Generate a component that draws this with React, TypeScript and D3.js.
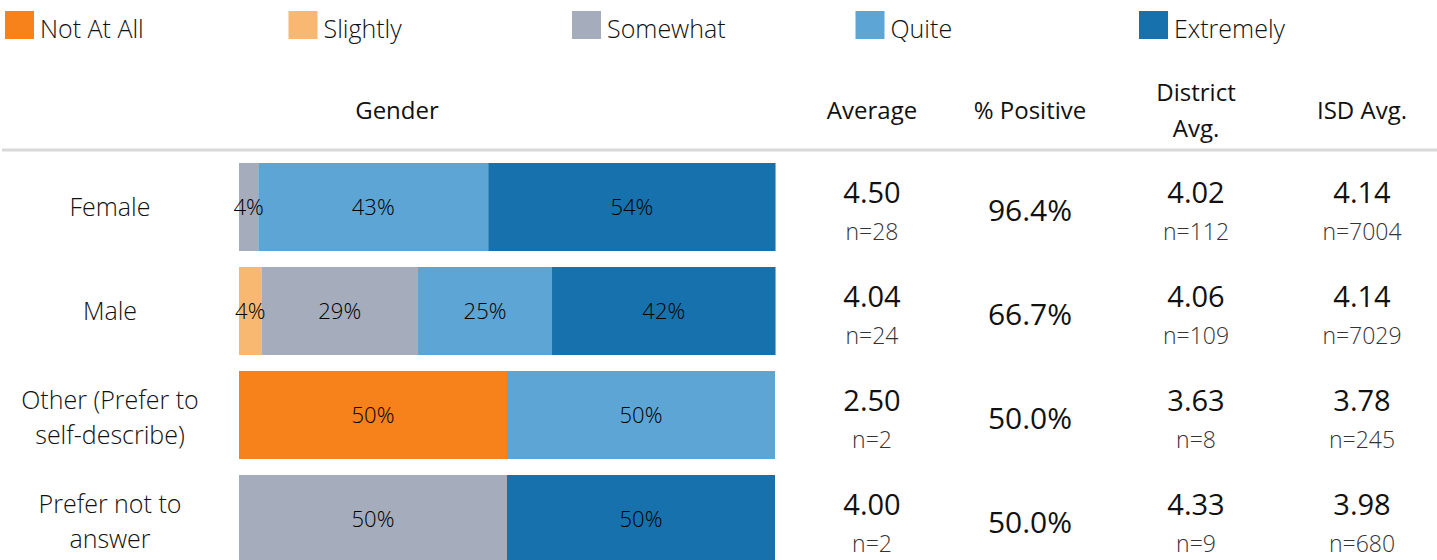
import React from "react";
import * as d3 from "d3";

const levels = ["Not At All", "Slightly", "Somewhat", "Quite", "Extremely"];
const levelColors = ["#F7811A", "#F9B872", "#A5ACBB", "#5DA5D5", "#1771AD"];

const groups = ["Female", "Male", "Other (Prefer to self-describe)", "Prefer not to answer"];
const groupLines = [["Female"], ["Male"], ["Other (Prefer to", "self-describe)"], ["Prefer not to", "answer"]];

// shares (%) per level, per group
const femaleShares = [0, 0, 3.6, 42.9, 53.6];
const maleShares = [0, 4.2, 29.2, 25.0, 41.7];
const otherShares = [50, 0, 0, 50, 0];
const preferNotShares = [0, 0, 50, 0, 50];
const shares = [femaleShares, maleShares, otherShares, preferNotShares];

const averages = ["4.50", "4.04", "2.50", "4.00"];
const averageN = [28, 24, 2, 2];
const pctPositive = ["96.4%", "66.7%", "50.0%", "50.0%"];
const districtAvg = ["4.02", "4.06", "3.63", "4.33"];
const districtN = [112, 109, 8, 9];
const isdAvg = ["4.14", "4.14", "3.78", "3.98"];
const isdN = [7004, 7029, 245, 680];

const headers = ["Average", "% Positive", "District Avg.", "ISD Avg."];

const W = 1437;
const H = 560;
const FONT = "'Open Sans', 'Noto Sans', sans-serif";

export default function App() {
  const x = d3.scaleLinear().domain([0, 100]).range([239, 775]);
  const y = d3.scaleBand<string>().domain(groups).range([155, 571]).paddingInner(16 / 104).paddingOuter(8 / 104);
  const legendX = d3.scalePoint<string>().domain(levels).range([5, 1139]);
  const colCenters = [872, 1030, 1196, 1362];

  const tableData = groups.map((g, i) => {
    const row: any = { group: g };
    levels.forEach((l, j) => (row[l] = shares[i][j]));
    return row;
  });
  const stack = d3.stack<any>().keys(levels);
  const series = stack(tableData);

  const textFill = "#111";

  return (
    <svg width={W} height={H} style={{ position: "absolute", left: 0, top: 0 }} fontFamily={FONT}>
      {/* legend */}
      {levels.map((l, i) => (
        <g key={l} transform={`translate(${legendX(l)},0)`}>
          <rect x={0} y={11} width={29} height={28} fill={levelColors[i]} />
          <text x={35} y={38} fontSize={25} fill={textFill} fontWeight={300}>
            {l}
          </text>
        </g>
      ))}

      {/* headers */}
      <text x={397} y={119} fontSize={24} textAnchor="middle" fill={textFill}>
        Gender
      </text>
      {headers.map((h, i) => {
        const cx = colCenters[i];
        if (h === "District Avg.") {
          return (
            <text key={h} x={cx} fontSize={24} textAnchor="middle" fill={textFill}>
              <tspan x={cx} y={101}>District</tspan>
              <tspan x={cx} y={137}>Avg.</tspan>
            </text>
          );
        }
        return (
          <text key={h} x={cx} y={119} fontSize={24} textAnchor="middle" fill={textFill}>
            {h}
          </text>
        );
      })}
      <line x1={2} x2={W} y1={150} y2={150} stroke="#d9d9d9" strokeWidth={3} />

      {/* bars */}
      {series.map((s, si) => (
        <g key={s.key} fill={levelColors[si]}>
          {s.map((d, di) => {
            const w = x(d[1]) - x(d[0]);
            if (w <= 0) return null;
            return (
              <rect key={di} x={x(d[0])} y={y(groups[di])} width={w} height={y.bandwidth()} />
            );
          })}
        </g>
      ))}
      {series.map((s) =>
        s.map((d, di) => {
          const v = d[1] - d[0];
          if (v <= 0) return null;
          const cy = (y(groups[di]) as number) + y.bandwidth() / 2;
          return (
            <text
              key={s.key + di}
              x={(x(d[0]) + x(d[1])) / 2}
              y={cy + 8}
              fontSize={22}
              fontWeight={300}
              textAnchor="middle"
              fill="#000"
            >
              {Math.round(v)}%
            </text>
          );
        })
      )}

      {/* row labels and stats */}
      {groups.map((g, i) => {
        const cy = (y(g) as number) + y.bandwidth() / 2;
        const lines = groupLines[i];
        const startY = lines.length === 1 ? cy + 9 : cy - 6;
        return (
          <g key={g}>
            <text fontSize={25} fontWeight={300} textAnchor="middle" fill={textFill}>
              {lines.map((ln, k) => (
                <tspan key={k} x={110} y={startY + k * 35}>
                  {ln}
                </tspan>
              ))}
            </text>
            <text x={colCenters[0]} y={cy - 4} fontSize={29} textAnchor="middle" fill={textFill}>
              {averages[i]}
            </text>
            <text x={colCenters[0]} y={cy + 33} fontSize={23} fontWeight={300} textAnchor="middle" fill="#333">
              n={averageN[i]}
            </text>
            <text x={colCenters[1]} y={cy + 14} fontSize={30} textAnchor="middle" fill={textFill}>
              {pctPositive[i]}
            </text>
            <text x={colCenters[2]} y={cy - 4} fontSize={29} textAnchor="middle" fill={textFill}>
              {districtAvg[i]}
            </text>
            <text x={colCenters[2]} y={cy + 33} fontSize={23} fontWeight={300} textAnchor="middle" fill="#333">
              n={districtN[i]}
            </text>
            <text x={colCenters[3]} y={cy - 4} fontSize={29} textAnchor="middle" fill={textFill}>
              {isdAvg[i]}
            </text>
            <text x={colCenters[3]} y={cy + 33} fontSize={23} fontWeight={300} textAnchor="middle" fill="#333">
              n={isdN[i]}
            </text>
          </g>
        );
      })}
    </svg>
  );
}
